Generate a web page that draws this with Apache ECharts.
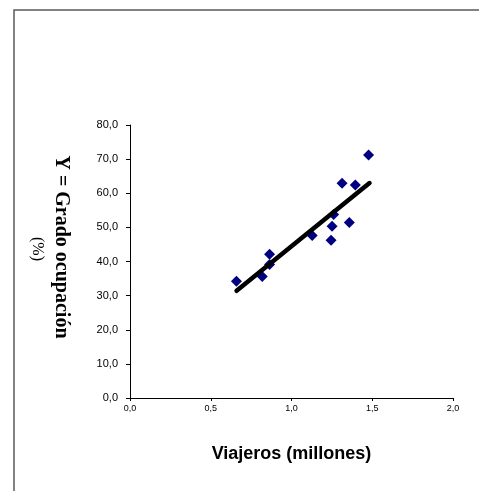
<!DOCTYPE html>
<html>
<head>
<meta charset="utf-8">
<script src="https://cdn.jsdelivr.net/npm/echarts@6/dist/echarts.min.js"></script>
<style>html,body{margin:0;padding:0;background:#fff;}#c{width:479px;height:491px;}</style>
</head>
<body>
<div id="c"></div>
<script>
var viajeros = [0.659, 0.819, 0.864, 0.864, 1.128, 1.245, 1.251, 1.261, 1.313, 1.358, 1.395, 1.477];
var ocupacion = [34.2, 35.6, 39.1, 42.1, 47.6, 46.2, 50.3, 53.8, 62.9, 51.4, 62.4, 71.2];
var trendX = [0.66, 1.483];
var trendY = [31.4, 63.0];
var xTicks = [0, 0.5, 1.0, 1.5, 2.0];
var yTicks = [0, 10, 20, 30, 40, 50, 60, 70, 80];

var chart = echarts.init(document.getElementById('c'), null, {renderer: 'canvas'});
function fmt(v){ return v.toFixed(1).replace('.', ','); }
var points = viajeros.map(function(x, i){ return [x, ocupacion[i]]; });
var trend = trendX.map(function(x, i){ return [x, trendY[i]]; });
chart.setOption({
  animation: false,
  backgroundColor: '#fff',
  grid: {left: 130, top: 125, right: 26, bottom: 93, containLabel: false},
  xAxis: {
    type: 'value', min: 0, max: 2, interval: 0.5,
    axisLine: {lineStyle: {color: '#000', width: 1}},
    axisTick: {show: true, length: 3, lineStyle: {color: '#000'}},
    splitLine: {show: false},
    axisLabel: {formatter: fmt, color: '#000', fontFamily: 'Liberation Sans, Arial', fontSize: 9, margin: 6},
    name: 'Viajeros (millones)', nameLocation: 'middle', nameGap: 47,
    nameTextStyle: {color: '#000', fontFamily: 'Liberation Sans, Arial', fontSize: 18, fontWeight: 'bold'}
  },
  yAxis: {
    type: 'value', min: 0, max: 80, interval: 10,
    axisLine: {show: true, lineStyle: {color: '#000', width: 1}},
    axisTick: {show: true, length: 4, lineStyle: {color: '#000'}},
    splitLine: {show: false},
    axisLabel: {formatter: fmt, color: '#000', fontFamily: 'Liberation Sans, Arial', fontSize: 11, margin: 12}
  },
  graphic: [
    {type: 'rect', shape: {x: 14, y: 10, width: 600, height: 600}, style: {fill: 'none', stroke: '#595959', lineWidth: 1.5}, silent: true, z: -1},
    {type: 'text', x: 61, y: 247, rotation: -Math.PI/2,
     style: {text: 'Y = Grado ocupación', fill: '#000', font: 'bold 20px "Liberation Serif", "Times New Roman", serif', textAlign: 'center', textVerticalAlign: 'middle'}},
    {type: 'text', x: 37, y: 249, rotation: -Math.PI/2,
     style: {text: '(%)', fill: '#000', font: '16px "Liberation Serif", "Times New Roman", serif', textAlign: 'center', textVerticalAlign: 'middle'}}
  ],
  series: [
    {type: 'scatter', data: points, symbol: 'diamond', symbolSize: 11, itemStyle: {color: '#000080', opacity: 1}, z: 2},
    {type: 'line', data: trend, symbol: 'none', lineStyle: {color: '#000', width: 4.5, cap: 'round'}, z: 3}
  ]
});
</script>
</body>
</html>
